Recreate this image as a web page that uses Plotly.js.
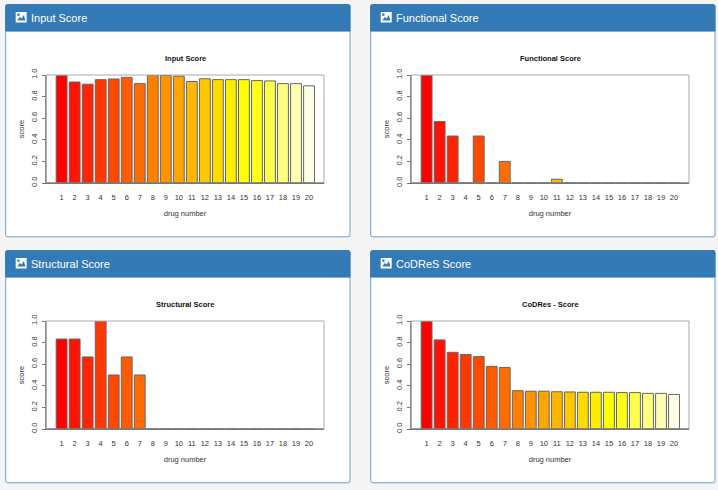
<!DOCTYPE html>
<html>
<head>
<meta charset="utf-8">
<script src="https://cdn.plot.ly/plotly-3.0.1.min.js"></script>
<style>html,body{margin:0;padding:0;background:#f5f5f5;overflow:hidden}#chart{width:718px;height:490px}</style>
</head>
<body>
<div id="chart"></div>
<script>
var drugNumbers = [1,2,3,4,5,6,7,8,9,10,11,12,13,14,15,16,17,18,19,20];
var inputScore = [0.995,0.935,0.915,0.957,0.963,0.978,0.92,1.0,0.995,0.99,0.94,0.965,0.957,0.957,0.957,0.948,0.945,0.92,0.92,0.90];
var functionalScore = [1.0,0.57,0.435,0,0.435,0,0.2,0,0,0,0.035,0,0,0,0,0,0,0,0,0];
var structuralScore = [0.833,0.833,0.667,1.0,0.5,0.667,0.5,0,0,0,0,0,0,0,0,0,0,0,0,0];
var codresScore = [1.0,0.825,0.71,0.69,0.67,0.58,0.57,0.355,0.35,0.35,0.345,0.343,0.34,0.34,0.34,0.337,0.337,0.33,0.33,0.32];
var heatColors = ['#FF0000','#FF1200','#FF2400','#FF3700','#FF4900','#FF5B00','#FF6D00','#FF8000','#FF9200','#FFA400','#FFB600','#FFC800','#FFDB00','#FFED00','#FFFF00','#FFFF1A','#FFFF4D','#FFFF80','#FFFFB3','#FFFFE6'];
var panelTitles = ['Input Score','Functional Score','Structural Score','CoDReS Score'];
var plotTitles = ['Input Score','Functional Score','Structural Score','CoDRes - Score'];
var panelScores = [inputScore, functionalScore, structuralScore, codresScore];
var yTickVals = [0,0.2,0.4,0.6,0.8,1];
var yTickText = ['0.0','0.2','0.4','0.6','0.8','1.0'];

var W = 718, H = 490, FONT = '"Liberation Sans", Arial, sans-serif';
function px(x){return x/W;}
function py(y){return 1-y/H;}
function rounded(x0,y0,x1,y1,r,tl,bl){
  var a = tl?r:0, b = bl?r:0;
  return 'M'+px(x0+a)+','+py(y0)+' L'+px(x1-a)+','+py(y0)+
    ' Q'+px(x1)+','+py(y0)+' '+px(x1)+','+py(y0+a)+
    ' L'+px(x1)+','+py(y1-b)+' Q'+px(x1)+','+py(y1)+' '+px(x1-b)+','+py(y1)+
    ' L'+px(x0+b)+','+py(y1)+' Q'+px(x0)+','+py(y1)+' '+px(x0)+','+py(y1-b)+
    ' L'+px(x0)+','+py(y0+a)+' Q'+px(x0)+','+py(y0)+' '+px(x0+a)+','+py(y0)+' Z';
}
var layout = {
  width:W, height:H, margin:{l:0,r:0,t:0,b:0}, showlegend:false, bargap:0.167,
  paper_bgcolor:'#f5f5f5', plot_bgcolor:'rgba(0,0,0,0)',
  font:{family:FONT,color:'#222',size:7.5}, shapes:[], annotations:[]
};
var traces = [];
var lefts = [5.7,370.7,5.7,370.7], tops = [4.5,4.5,250.5,250.5];
panelScores.forEach(function(scores,i){
  var L = lefts[i], T = tops[i], R = L+344.3, B = T+232.3, HB = T+26.6;
  var bx0 = L+40.3, bx1 = bx0+278, by0 = T+70.5, by1 = by0+108;
  var sfx = i===0?'':String(i+1);
  traces.push({type:'bar',x:drugNumbers,y:scores,xaxis:'x'+sfx,yaxis:'y'+sfx,
    marker:{color:heatColors,line:{color:'#666',width:1}},hoverinfo:'x+y'});
  layout['xaxis'+sfx] = {domain:[px(bx0),px(bx1)],anchor:'y'+sfx,range:[-0.198,21.15],
    tickmode:'array',tickvals:drugNumbers,ticktext:drugNumbers.map(String),tickangle:0,
    ticks:'outside',ticklen:7,tickcolor:'rgba(0,0,0,0)',showgrid:false,zeroline:false,
    showline:true,linecolor:'#666',linewidth:1,tickfont:{size:7.5,color:'#333'},
    title:{text:'drug number',standoff:9,font:{size:7.5,color:'#333'}}};
  layout['yaxis'+sfx] = {domain:[py(by1),py(by0)],anchor:'x'+sfx,range:[0,1],
    tickmode:'array',tickvals:yTickVals,ticktext:yTickText,tickangle:-90,ticklabelstandoff:2,
    ticks:'outside',ticklen:3,tickcolor:'#777',showgrid:false,zeroline:false,
    showline:true,linecolor:'#777',linewidth:1,tickfont:{size:7.5,color:'#333'},
    title:{text:'score',standoff:4,font:{size:7.5,color:'#333'}}};
  // panel body, then header
  layout.shapes.push({type:'path',xref:'paper',yref:'paper',layer:'below',path:rounded(L,T,R,B,2,true,true),
    fillcolor:'#ffffff',line:{color:'#6a9fd0',width:1}});
  layout.shapes.push({type:'path',xref:'paper',yref:'paper',layer:'below',path:rounded(L,T,R,HB,2,true,false),
    fillcolor:'#337ab7',line:{color:'#337ab7',width:1}});
  // picture glyph in header
  var ix = L+10, iy = T+7.5;
  layout.shapes.push({type:'rect',xref:'paper',yref:'paper',layer:'below',x0:px(ix),x1:px(ix+11),y0:py(iy),y1:py(iy+10.5),
    fillcolor:'#ffffff',line:{width:0}});
  layout.shapes.push({type:'path',xref:'paper',yref:'paper',layer:'below',
    path:'M'+px(ix+1.5)+','+py(iy+8.5)+' L'+px(ix+4)+','+py(iy+5)+' L'+px(ix+6)+','+py(iy+6.5)+' L'+px(ix+8)+','+py(iy+3)+' L'+px(ix+9.8)+','+py(iy+8.5)+' Z',
    fillcolor:'#337ab7',line:{width:0}});
  layout.shapes.push({type:'rect',xref:'paper',yref:'paper',layer:'below',x0:px(ix+1.5),x1:px(ix+3.8),y0:py(iy+1.5),y1:py(iy+3.8),
    fillcolor:'#337ab7',line:{width:0}});
  // light plot frame
  layout.shapes.push({type:'rect',xref:'paper',yref:'paper',layer:'above',x0:px(bx0),x1:px(bx1),y0:py(by1),y1:py(by0),
    fillcolor:'rgba(0,0,0,0)',line:{color:'#aaaaaa',width:1}});
  layout.shapes.push({type:'line',xref:'paper',yref:'paper',layer:'above',x0:px(bx0),x1:px(bx1),y0:py(by1),y1:py(by1),line:{color:'#666',width:1}});
  layout.shapes.push({type:'line',xref:'paper',yref:'paper',layer:'above',x0:px(bx0),x1:px(bx0),y0:py(by1),y1:py(by0),line:{color:'#888',width:1}});
  layout.annotations.push({xref:'paper',yref:'paper',x:px(L+23),y:py(T+13.2),xanchor:'left',yanchor:'middle',showarrow:false,
    text:panelTitles[i],font:{family:FONT,size:11,color:'#ffffff'}});
  layout.annotations.push({xref:'paper',yref:'paper',x:px((bx0+bx1)/2),y:py(T+53.7),xanchor:'center',yanchor:'middle',showarrow:false,
    text:'<b>'+plotTitles[i]+'</b>',font:{family:FONT,size:7.5,color:'#111'}});
});
Plotly.newPlot('chart',traces,layout,{displayModeBar:false,responsive:false});
</script>
</body>
</html>
